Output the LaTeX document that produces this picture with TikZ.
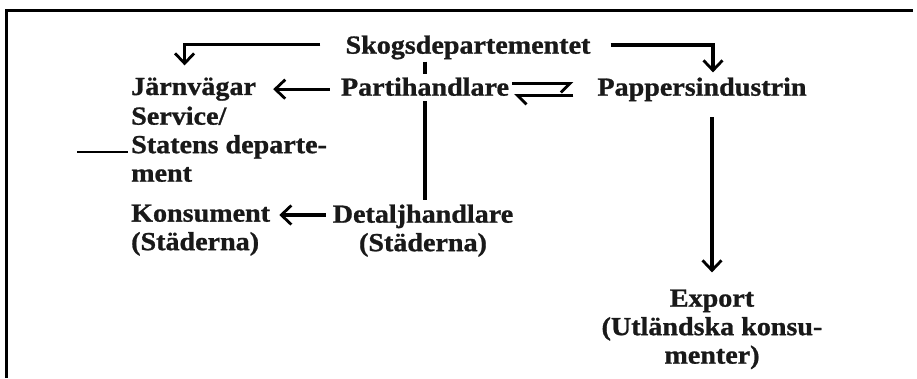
\documentclass[tikz,border=0pt]{standalone}
\usepackage{fontspec}
\setmainfont[FakeStretch=1.08, BoldFeatures={FakeBold=1}]{Liberation Serif}
\usetikzlibrary{arrows.meta}

\tikzset{
  lbl/.style={inner sep=0pt, text=black!90, font=\fontsize{26}{28.5}\selectfont\bfseries},
  link/.style={line width=3.2pt},
  flow/.style={link, -{Straight Barb[length=10pt,width=19pt,line width=2.8pt]}},
  harpr/.style={link, -{Straight Barb[harpoon,swap,length=9pt,width=18pt,line width=2.8pt]}},
  harpl/.style={link, -{Straight Barb[harpoon,length=9pt,width=18pt,line width=2.8pt]}},
}

\begin{document}
\begin{tikzpicture}[x=1pt,y=-1pt]
    \useasboundingbox (0,0) rectangle (917,378);

    % Draw the frame
    \draw[line width=3pt] (6,378) -- (6,10) -- (913,10);

    % Label the boxes
    \node[lbl] (skog) at (468,35.4) [anchor=north] {Skogsdepartementet};
    \node[lbl] (jarn) at (131,77.4) [anchor=north west] {Järnvägar};
    \node[lbl] (parti) at (425,77.4) [anchor=north] {Partihandlare};
    \node[lbl] (papper) at (702,77.4) [anchor=north] {Pappersindustrin};
    \node[lbl, align=left] (serv) at (131,106.4) [anchor=north west] {Service/\\Statens departe-\\ment};
    \node[lbl, align=left] (kons) at (131,204.4) [anchor=north west] {Konsument\\(Städerna)};
    \node[lbl, align=center] (detalj) at (423,204.4) [anchor=north] {Detaljhandlare\\(Städerna)};
    \node[lbl, align=center] (export) at (712,289.4) [anchor=north] {Export\\(Utländska konsu-\\menter)};

    % The short stroke before Statens
    \draw[line width=1.5pt] (77,152) -- (128,152);

    % Arrows from the department
    \draw[flow, shorten >=12pt] ([xshift=-25pt,yshift=-9pt]skog.north west) -| ([xshift=-9pt]jarn.north);
    \draw[flow, shorten >=5pt] ([xshift=20pt,yshift=-9.5pt]skog.north east) -| ([xshift=11pt]papper.north);
    \draw[link, shorten <=2pt, shorten >=3pt] (parti.north |- skog.south) -- (parti.north);

    % Arrows from the wholesalers
    \draw[flow, shorten <=11pt, shorten >=17pt] (parti.west |- jarn.east) -- (jarn.east);
    \draw[harpr, shorten <=3pt, shorten >=24pt] ([yshift=-6pt]parti.north east) -- ([yshift=-6pt]papper.north west);
    \draw[harpl, shorten <=24pt, shorten >=5pt] ([yshift=-18pt]papper.north west) -- ([yshift=-18pt]parti.north east);
    \draw[link, shorten <=5pt, shorten >=4pt] (parti.south) -- (parti.south |- detalj.north);

    % Retail and export
    \draw[flow, shorten <=7pt, shorten >=9pt] ([yshift=-10.6pt]detalj.north west) -- ([yshift=-10.6pt]kons.north east);
    \draw[flow, shorten <=16pt, shorten >=17pt] (papper.south -| export.north) -- (export.north);

\end{tikzpicture}
\end{document}
